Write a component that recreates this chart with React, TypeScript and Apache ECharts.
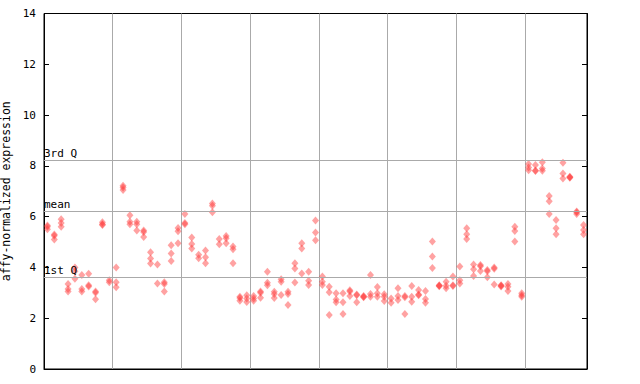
import React, { useEffect, useRef } from "react";
import * as echarts from "echarts";

// replicate values per sample (79 samples)
const rep1 = [5.65, 5.3, 5.9, 3.35, 4.0, 3.7, 3.75, 3.05, 5.78, 3.5, 4.0, 7.22, 6.05, 5.8, 5.45, 4.6, 4.12, 3.42, 4.87, 5.55, 6.1, 5.18, 4.5, 4.67, 6.52, 5.12, 5.24, 4.82, 2.85, 2.9, 2.87, 3.05, 3.83, 3.04, 3.53, 3.04, 4.16, 4.95, 3.83, 5.85, 3.64, 3.24, 2.98, 2.98, 3.1, 2.93, 2.87, 3.7, 3.23, 2.94, 2.78, 3.18, 2.87, 3.27, 3.11, 3.07, 5.02, 3.3, 3.44, 3.64, 4.04, 5.54, 4.12, 4.1, 3.9, 4.0, 3.3, 3.35, 5.6, 2.98, 8.07, 8.03, 8.14, 6.81, 5.87, 8.12, 7.57, 6.2, 5.67];
const rep2 = [5.6, 5.25, 5.75, 3.15, 3.85, 3.15, 3.3, 3.0, 5.7, 3.42, 3.42, 7.15, 5.8, 5.7, 5.4, 4.35, 3.37, 3.35, 4.55, 5.42, 5.75, 4.92, 4.36, 4.4, 6.43, 4.91, 5.15, 4.72, 2.8, 2.78, 2.78, 3.0, 3.4, 2.95, 3.44, 2.95, 3.96, 4.75, 3.48, 5.38, 3.44, 3.02, 2.74, 2.63, 3.05, 2.9, 2.83, 2.95, 2.98, 2.85, 2.61, 2.87, 2.83, 2.85, 2.93, 2.76, 4.43, 3.28, 3.28, 3.3, 3.5, 5.31, 3.93, 4.05, 3.85, 3.95, 3.28, 3.24, 5.43, 2.9, 7.94, 7.82, 7.9, 6.61, 5.54, 7.7, 7.53, 6.17, 5.47];
const rep3 = [5.5, 5.1, 5.6, 3.05, 3.55, 3.05, 3.25, 2.75, 5.67, null, 3.22, 7.05, 5.7, 5.45, 5.2, 4.15, null, 3.05, 4.25, 4.95, 5.7, 4.75, null, 4.16, 6.17, null, 4.95, 4.16, 2.69, 2.64, 2.69, 2.81, 3.3, 2.8, 2.91, 2.52, 3.41, 3.76, 3.31, 5.07, 3.31, 2.13, 2.63, 2.17, 2.87, 2.63, 2.85, 2.85, 2.85, 2.68, null, 2.72, 2.17, 2.65, 2.9, 2.61, 3.98, 3.26, 3.18, 3.27, 3.37, 5.12, 3.66, 3.86, 3.61, 3.33, 3.25, 3.07, 5.02, 2.85, 7.83, 7.8, 7.81, 6.1, 5.31, 7.5, 7.55, 6.1, 5.31];

const quartileNames = ["3rd Q", "mean", "1st Q"];
const quartileValues = [8.22, 6.22, 3.61];

const yTicks = [0, 2, 4, 6, 8, 10, 12, 14];
const sampleCount = rep1.length;
const groupSize = 10;

const FONT = "DejaVu Sans Mono";

export default function App() {
  const ref = useRef<HTMLDivElement>(null);

  useEffect(() => {
    if (!ref.current) return;
    const chart = echarts.init(ref.current, null, { renderer: "svg" });

    const points: number[][] = [];
    for (let i = 0; i < sampleCount; i++) {
      for (const arr of [rep1, rep2, rep3]) {
        const v = arr[i];
        if (v !== null && v !== undefined) points.push([i + 0.5, v]);
      }
    }

    const option: any = {
      animation: false,
      backgroundColor: "#fff",
      grid: {
        left: 44,
        right: 53,
        top: 13.5,
        bottom: 15,
        containLabel: false,
        outerBoundsMode: "none",
        show: true,
        borderColor: "#000",
        borderWidth: 1,
        backgroundColor: "transparent",
      },
      xAxis: {
        type: "value",
        min: 0,
        max: sampleCount,
        interval: groupSize,
        axisLine: { show: true, lineStyle: { color: "#000", width: 1 } },
        axisTick: { show: false },
        axisLabel: { show: false },
        splitLine: { show: true, lineStyle: { color: "#aaaaaa", width: 1 } },
      },
      yAxis: [
        {
          type: "value",
          min: yTicks[0],
          max: yTicks[yTicks.length - 1],
          interval: 2,
          name: "affy-normalized expression",
          nameLocation: "middle",
          nameGap: 29,
          nameTextStyle: { fontFamily: FONT, fontSize: 11.5, color: "#000" },
          axisLine: { show: true, lineStyle: { color: "#000", width: 1 } },
          axisTick: { show: true, inside: true, length: 5, lineStyle: { color: "#000" } },
          axisLabel: { fontFamily: FONT, fontSize: 11, color: "#000", margin: 8 },
          splitLine: { show: false },
        },
        {
          type: "value",
          position: "right",
          min: yTicks[0],
          max: yTicks[yTicks.length - 1],
          interval: 2,
          axisLine: { show: true, lineStyle: { color: "#000", width: 1 } },
          axisTick: { show: true, inside: true, length: 5, lineStyle: { color: "#000" } },
          axisLabel: { show: false },
          splitLine: { show: false },
        },
      ],
      series: [
        {
          type: "scatter",
          data: points,
          symbol: "diamond",
          symbolSize: [7, 8],
          itemStyle: { color: "rgba(255,55,55,0.58)" },
          markLine: {
            silent: true,
            symbol: ["none", "none"],
            lineStyle: { color: "#aaaaaa", width: 1, type: "solid" },
            label: {
              show: true,
              position: "insideStartTop",
              distance: [0, 1],
              fontFamily: FONT,
              fontSize: 11,
              color: "#000",
              formatter: (p: any) => p.name,
            },
            data: quartileNames.map((n, k) => ({ name: n, yAxis: quartileValues[k] })),
          },
        },
      ],
    };

    chart.setOption(option);
    return () => chart.dispose();
  }, []);

  return (
    <div
      ref={ref}
      style={{ position: "fixed", left: 0, top: 0, width: 640, height: 384, background: "#fff" }}
    />
  );
}
